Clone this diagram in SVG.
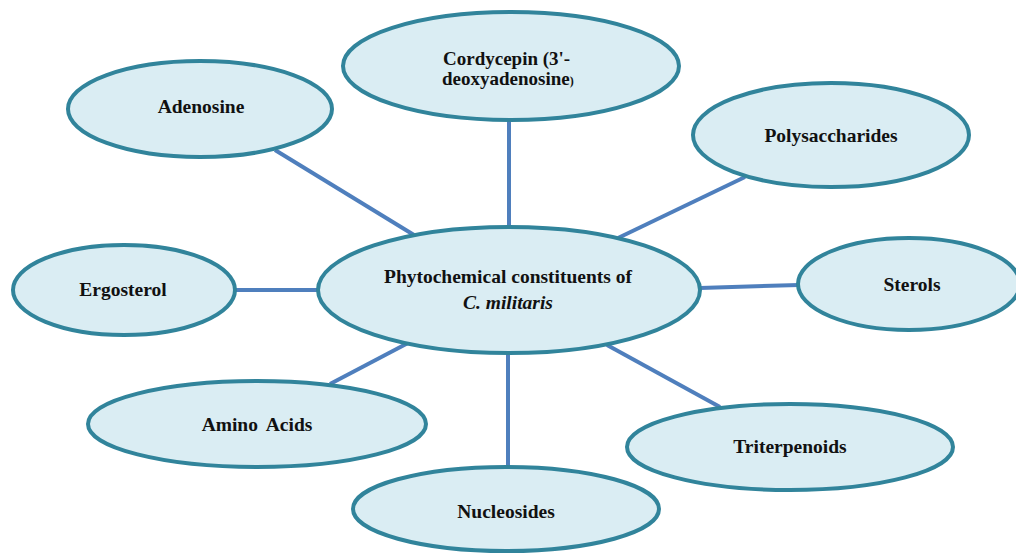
<svg xmlns="http://www.w3.org/2000/svg" width="1016" height="553" viewBox="0 0 1016 553">
<style>
.node ellipse{fill:#daedf3;stroke:#31849b;stroke-width:4}
.node text{font-family:"Liberation Serif","Times New Roman",serif;font-weight:bold;font-size:19.5px;fill:#111;text-anchor:middle}
#connectors line{stroke:#4f7fbd;stroke-width:4;stroke-linecap:butt}
</style>
<rect width="1016" height="553" fill="#ffffff"/>
<g id="connectors">
<line x1="275" y1="150" x2="414" y2="235"/>
<line x1="509" y1="121" x2="509" y2="227"/>
<line x1="618" y1="238" x2="745" y2="177"/>
<line x1="236" y1="290" x2="319" y2="290"/>
<line x1="700" y1="288" x2="799" y2="285"/>
<line x1="330" y1="384" x2="408" y2="343"/>
<line x1="508" y1="353" x2="508" y2="467"/>
<line x1="607" y1="345" x2="720" y2="407"/>
</g>
<g id="node-cordycepin" class="node">
<ellipse cx="511" cy="66" rx="168" ry="54"/>
<text x="443" y="65" style="text-anchor:start;font-size:19px">Cordycepin (3'-</text>
<text x="442" y="85" style="text-anchor:start;font-size:19px">deoxyadenosine<tspan font-size="12">)</tspan></text>
</g>
<g id="node-adenosine" class="node">
<ellipse cx="200" cy="109" rx="132" ry="48"/>
<text x="201" y="113">Adenosine</text>
</g>
<g id="node-polysaccharides" class="node">
<ellipse cx="831" cy="135" rx="138" ry="52"/>
<text x="831" y="142">Polysaccharides</text>
</g>
<g id="node-ergosterol" class="node">
<ellipse cx="124" cy="290" rx="111" ry="45"/>
<text x="123" y="296">Ergosterol</text>
</g>
<g id="node-sterols" class="node">
<ellipse cx="909" cy="284" rx="111" ry="46"/>
<text x="912" y="291">Sterols</text>
</g>
<g id="node-center" class="node">
<ellipse cx="509" cy="290" rx="191" ry="63"/>
<text x="508" y="283">Phytochemical constituents of</text>
<text x="508" y="309" font-style="italic">C. militaris</text>
</g>
<g id="node-amino" class="node">
<ellipse cx="257" cy="424" rx="169" ry="43"/>
<text x="257" y="431" word-spacing="4">Amino Acids</text>
</g>
<g id="node-triterpenoids" class="node">
<ellipse cx="790" cy="447" rx="163" ry="43"/>
<text x="790" y="453">Triterpenoids</text>
</g>
<g id="node-nucleosides" class="node">
<ellipse cx="506" cy="509" rx="153" ry="42"/>
<text x="506" y="518">Nucleosides</text>
</g>
</svg>
